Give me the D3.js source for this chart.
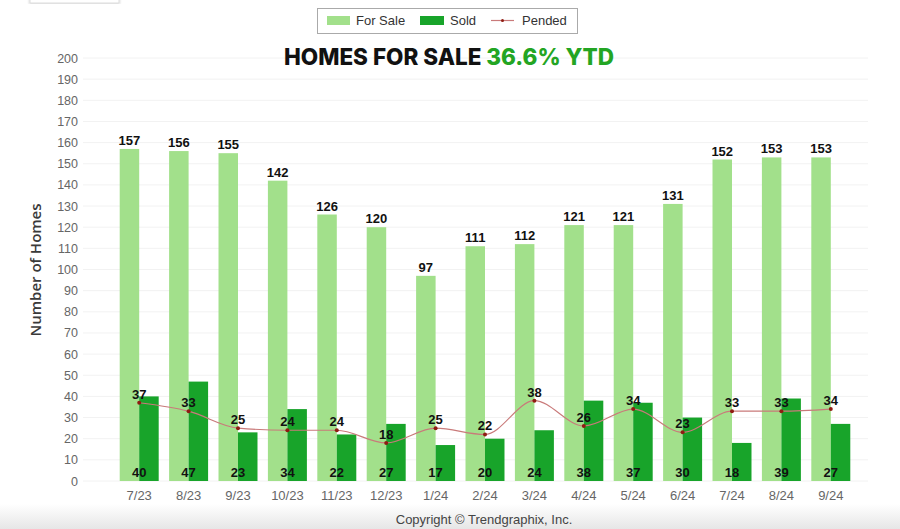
<!DOCTYPE html>
<html>
<head>
<meta charset="utf-8">
<script src="https://cdn.jsdelivr.net/npm/d3@7"></script>
<style>
  body { margin: 0; background: #fff; }
  svg { display: block; }
</style>
</head>
<body>
<script>
const w = 900
const h = 529

const months = ['7/23','8/23','9/23','10/23','11/23','12/23','1/24','2/24','3/24','4/24','5/24','6/24','7/24','8/24','9/24']
const forSale = [157,156,155,142,126,120,97,111,112,121,121,131,152,153,153]
const sold = [40,47,23,34,22,27,17,20,24,38,37,30,18,39,27]
const pended = [37,33,25,24,24,18,25,22,38,26,34,23,33,33,34]
const yTicks = d3.range(0, 201, 10)

const lightGreen = '#a2e08b'
const darkGreen = '#18a42a'
const lineColor = '#c97a7a'
const dotColor = '#8e1c12'

const svg = d3.select('body').append('svg')
    .attr('width', w)
    .attr('height', h)

const defs = svg.append('defs')
const grad = defs.append('linearGradient')
    .attr('id', 'foot').attr('x1', 0).attr('y1', 0).attr('x2', 0).attr('y2', 1)
grad.append('stop').attr('offset', '0%').attr('stop-color', '#ffffff')
grad.append('stop').attr('offset', '100%').attr('stop-color', '#e6e6e6')
const shadow = defs.append('filter').attr('id', 'shadow')
shadow.append('feDropShadow').attr('dx', 0).attr('dy', 1).attr('stdDeviation', 1.2)
    .attr('flood-color', '#000').attr('flood-opacity', 0.25)

// footer band
svg.append('rect').attr('x', 0).attr('y', 504).attr('width', w).attr('height', h - 504)
    .attr('fill', 'url(#foot)')

// little box at top-left
svg.append('rect').attr('x', 30).attr('y', -6).attr('width', 89).attr('height', 9)
    .attr('fill', '#fff').attr('stroke', '#ddd').attr('filter', 'url(#shadow)')

const x = d3.scaleBand().domain(months).range([114.5, 855.5])
const x1 = d3.scaleBand().domain(['forSale', 'sold']).range([0, x.bandwidth()]).paddingOuter(0.267)
const y = d3.scaleLinear().domain([0, 200]).range([481, 58])

// grid
svg.append('g').selectAll('line').data(yTicks).join('line')
    .attr('x1', 83).attr('x2', 868)
    .attr('y1', d => y(d)).attr('y2', d => y(d))
    .attr('stroke', '#f2f2f2')

// y axis
const yAxis = svg.append('g')
    .attr('transform', 'translate(80,0)')
    .call(d3.axisLeft(y).tickValues(yTicks).tickSize(0).tickPadding(2))
yAxis.select('.domain').remove()
yAxis.selectAll('text')
    .attr('font-family', '"Liberation Sans Narrow", "Arial Narrow", sans-serif')
    .attr('font-size', 12.5).attr('fill', '#666')

// x axis
const xAxis = svg.append('g')
    .attr('transform', 'translate(0,481)')
    .call(d3.axisBottom(x).tickSize(0).tickPadding(10))
xAxis.select('.domain').remove()
xAxis.selectAll('text')
    .attr('font-family', '"Liberation Sans Narrow", "Arial Narrow", sans-serif')
    .attr('font-size', 13).attr('fill', '#666')

svg.append('text')
    .attr('transform', 'translate(41,270) rotate(-90)')
    .attr('text-anchor', 'middle')
    .attr('font-family', '"Open Sans", sans-serif')
    .attr('font-weight', 600)
    .attr('font-size', 15).attr('fill', '#3a3a3a')
    .text('Number of Homes')

// bars
svg.append('g').selectAll('rect').data(forSale).join('rect')
    .attr('x', (d, i) => x(months[i]) + x1('forSale'))
    .attr('y', d => y(d))
    .attr('width', x1.bandwidth())
    .attr('height', d => y(0) - y(d))
    .attr('fill', lightGreen)

svg.append('g').selectAll('rect').data(sold).join('rect')
    .attr('x', (d, i) => x(months[i]) + x1('sold'))
    .attr('y', d => y(d))
    .attr('width', x1.bandwidth())
    .attr('height', d => y(0) - y(d))
    .attr('fill', darkGreen)

// pended line
const cx = i => x(months[i]) + x.bandwidth() / 2
const lineFun = d3.line()
    .x((d, i) => cx(i))
    .y(d => y(d))
    .curve(d3.curveMonotoneX)

svg.append('path')
    .attr('d', lineFun(pended))
    .attr('fill', 'none')
    .attr('stroke', lineColor)
    .attr('stroke-width', 1.2)

svg.append('g').selectAll('circle').data(pended).join('circle')
    .attr('cx', (d, i) => cx(i))
    .attr('cy', d => y(d))
    .attr('r', 2)
    .attr('fill', dotColor)

// labels
const labelFont = '"Liberation Sans", Arial, sans-serif'
const lab = svg.append('g')
    .attr('font-family', labelFont)
    .attr('font-weight', 'bold')
    .attr('font-size', 13)
    .attr('fill', '#111')
    .attr('text-anchor', 'middle')

lab.selectAll('.fs').data(forSale).join('text')
    .attr('x', (d, i) => x(months[i]) + x1('forSale') + x1.bandwidth() / 2)
    .attr('y', d => y(d) - 4)
    .text(d => d)

lab.selectAll('.sd').data(sold).join('text')
    .attr('x', (d, i) => cx(i))
    .attr('y', 477)
    .text(d => d)

lab.selectAll('.pd').data(pended).join('text')
    .attr('x', (d, i) => cx(i))
    .attr('y', d => y(d) - 4)
    .text(d => d)

// legend
const lg = svg.append('g')
lg.append('rect').attr('x', 317.5).attr('y', 8.5).attr('width', 260).attr('height', 25)
    .attr('fill', '#fff').attr('stroke', '#aaa')
lg.append('rect').attr('x', 327).attr('y', 16).attr('width', 23).attr('height', 9).attr('fill', lightGreen)
lg.append('rect').attr('x', 420).attr('y', 16).attr('width', 24).attr('height', 9).attr('fill', darkGreen)
lg.append('line').attr('x1', 491).attr('x2', 514).attr('y1', 20.5).attr('y2', 20.5)
    .attr('stroke', lineColor).attr('stroke-width', 1.2)
lg.append('circle').attr('cx', 502.5).attr('cy', 20.5).attr('r', 1.5).attr('fill', dotColor)
const legendItems = [['For Sale', 356], ['Sold', 450], ['Pended', 522]]
lg.selectAll('text').data(legendItems).join('text')
    .attr('x', d => d[1]).attr('y', 25)
    .attr('font-family', labelFont).attr('font-size', 13).attr('fill', '#333')
    .text(d => d[0])

// title
const title = svg.append('text')
    .attr('x', 449).attr('y', 65)
    .attr('text-anchor', 'middle')
    .attr('font-family', 'Inter, "Open Sans", sans-serif')
    .attr('font-weight', 800)
    .attr('font-size', 22.5)
title.append('tspan').attr('fill', '#111').text('HOMES FOR SALE ')
title.append('tspan').attr('fill', '#23a523').text('36.6% YTD')

// copyright
svg.append('text')
    .attr('x', 484).attr('y', 524)
    .attr('text-anchor', 'middle')
    .attr('font-family', labelFont)
    .attr('font-size', 13).attr('fill', '#444')
    .text('Copyright © Trendgraphix, Inc.')
</script>
</body>
</html>
